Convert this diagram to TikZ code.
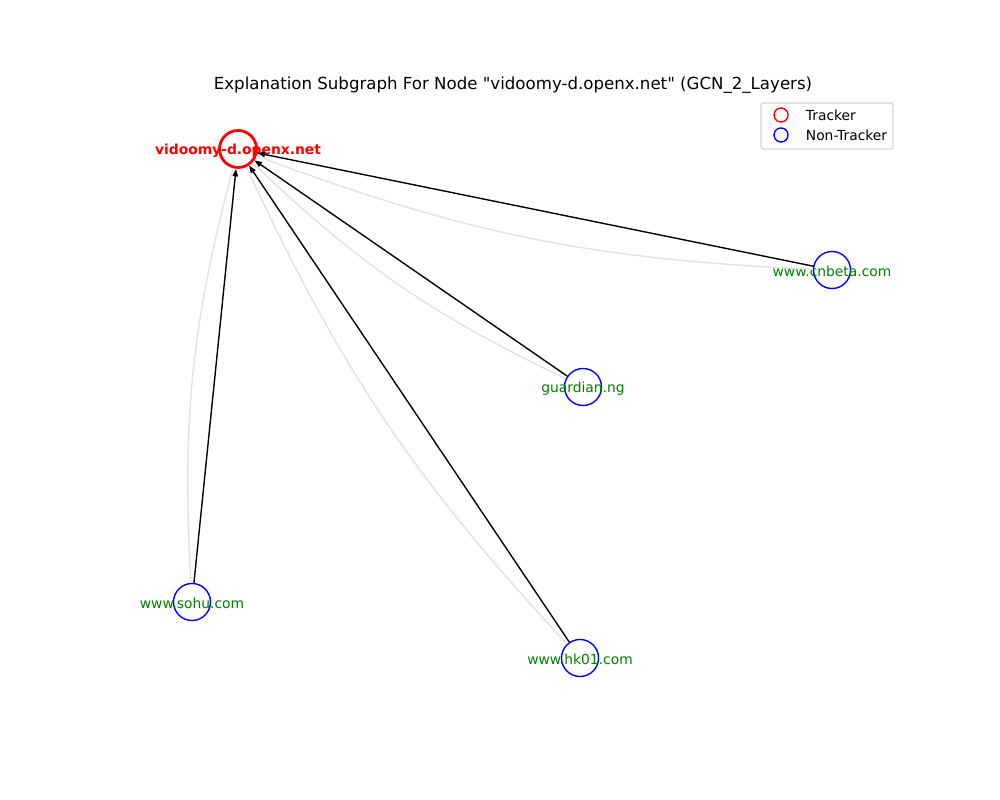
\documentclass[tikz,border=0pt]{standalone}
\usepackage{fontspec}
\setmainfont{DejaVu Sans}
\usepackage{xcolor}
\definecolor{labelgreen}{RGB}{0,128,0}
\definecolor{trackred}{RGB}{255,0,0}
\definecolor{nontrackblue}{RGB}{0,0,255}
\definecolor{contextgray}{RGB}{226,226,226}
\definecolor{framegray}{RGB}{214,214,214}
\usepackage{tikz}
\usetikzlibrary{arrows.meta}
\newcommand{\sizenode}{0.37in}
\newcommand{\sizemark}{0.14in}
\tikzset{
    common/.style={circle, draw, minimum size=\sizenode, inner sep=0pt},
    tracker/.style={common, trackred, line width=2pt},
    nontracker/.style={common, nontrackblue, line width=1pt},
    sitelabel/.style={text=labelgreen, font=\fontsize{10}{12}\selectfont, yshift=-1pt},
    trackerlabel/.style={text=trackred, font=\fontsize{10}{12}\selectfont\bfseries, yshift=-1pt},
    explain/.style={-{Triangle[length=5.5pt,width=4pt]}, line width=1pt, black},
    context/.style={contextgray, line width=1pt, bend left=9},
    legendmark/.style={circle, draw, minimum size=\sizemark, inner sep=0pt, line width=1pt},
    legendtext/.style={anchor=west, font=\fontsize{10}{12}\selectfont}
}

\begin{document}
\begin{tikzpicture}[x=0.01in, y=-0.01in]
    \useasboundingbox[fill=white] (0,0) rectangle (1000,800);

    \node[font=\fontsize{12}{14}\selectfont] (title) at (513,85.5)
        {Explanation Subgraph For Node \textquotedbl vidoomy-d.openx.net\textquotedbl{} (GCN\_2\_Layers)};

    % nodes
    \node[tracker, label={[trackerlabel]center:vidoomy-d.openx.net}] (target) at (238,149) {};
    \node[nontracker, label={[sitelabel]center:www.cnbeta.com}] (cnbeta) at (832,270) {};
    \node[nontracker, label={[sitelabel]center:guardian.ng}] (guardian) at (583,387) {};
    \node[nontracker, label={[sitelabel]center:www.sohu.com}] (sohu) at (192,602) {};
    \node[nontracker, label={[sitelabel]center:www.hk01.com}] (hk01) at (580,658) {};

    % grey context edges
    \draw[context] (cnbeta) to (target);
    \draw[context] (guardian) to (target);
    \draw[context] (sohu) to (target);
    \draw[context] (hk01) to (target);

    % explanation edges
    \draw[explain] (cnbeta) -- (target);
    \draw[explain] (guardian) -- (target);
    \draw[explain] (sohu) -- (target);
    \draw[explain] (hk01) -- (target);

    % legend
    \draw[framegray, fill=white, line width=1pt, rounded corners=2pt] (761,103) rectangle (893,149);
    \node[legendmark, trackred] (mark-tracker) at (781,115) {};
    \node[legendmark, nontrackblue] (mark-nontracker) at (781,135) {};
    \node[legendtext] (text-tracker) at (801,115) {Tracker};
    \node[legendtext] (text-nontracker) at (801,135) {Non-Tracker};
\end{tikzpicture}
\end{document}
